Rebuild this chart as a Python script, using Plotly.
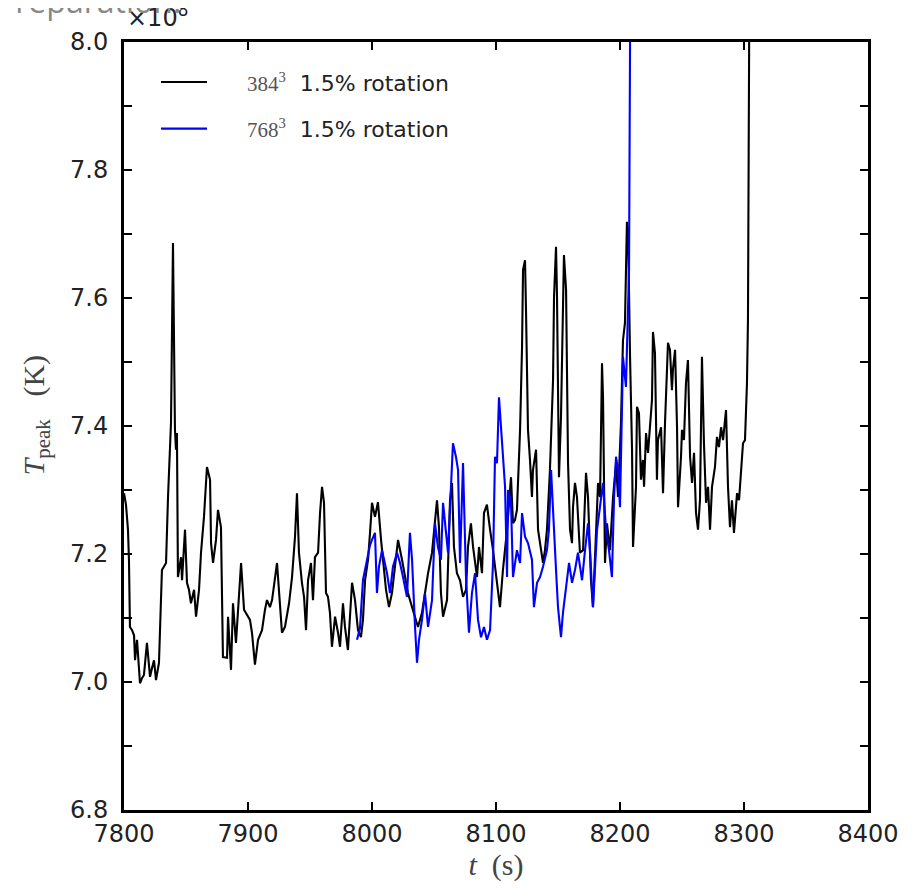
import plotly.graph_objects as go

# 384^3 run, 1.5% rotation  (t in s, T_peak in units of 1e8 K)
black_t = [7800.0, 7801.6, 7803.2, 7804.0, 7804.8, 7806.5, 7808.1, 7808.9, 7810.5, 7812.9,
           7814.5, 7816.1, 7818.5, 7821.0, 7822.6, 7824.2, 7825.8, 7828.2, 7830.6, 7833.9,
           7835.5, 7837.9, 7839.5, 7841.1, 7841.9, 7842.7, 7843.5, 7846.0, 7846.8, 7849.2,
           7850.8, 7852.4, 7854.0, 7856.5, 7858.1, 7860.5, 7862.1, 7864.5, 7866.9, 7869.4,
           7870.2, 7871.8, 7874.2, 7875.8, 7878.2, 7879.8, 7883.1, 7883.9, 7886.3, 7887.9,
           7890.3, 7892.7, 7894.4, 7896.8, 7899.2, 7901.6, 7903.2, 7905.6, 7908.1, 7911.3,
           7913.7, 7915.3, 7917.7, 7919.4, 7923.4, 7924.2, 7927.4, 7929.8, 7933.1, 7935.5,
           7937.9, 7939.5, 7941.1, 7943.5, 7945.2, 7946.8, 7948.4, 7950.8, 7952.4, 7954.0,
           7956.5, 7958.1, 7959.7, 7961.3, 7962.9, 7964.5, 7966.1, 7967.7, 7970.2, 7972.6,
           7974.2, 7976.6, 7978.2, 7980.6, 7983.9, 7986.3, 7988.7, 7991.1, 7992.7, 7994.4,
           7996.8, 7998.4, 8000.0, 8002.4, 8004.8, 8007.3, 8008.9, 8011.3, 8013.7, 8016.1,
           8018.5, 8021.0, 8024.2, 8026.6, 8029.0, 8032.3, 8034.7, 8037.1, 8040.3, 8042.7,
           8045.2, 8048.4, 8050.8, 8052.4, 8054.0, 8055.6, 8057.3, 8060.5, 8062.9, 8064.5,
           8066.1, 8068.5, 8071.0, 8073.4, 8075.8, 8077.4, 8079.8, 8081.5, 8084.7, 8086.3,
           8088.7, 8090.3, 8092.7, 8094.4, 8095.2, 8097.6, 8100.8, 8103.2, 8105.6, 8108.9,
           8112.1, 8113.7, 8115.3, 8116.9, 8119.4, 8121.0, 8121.8, 8123.4, 8124.2, 8125.8,
           8127.4, 8129.0, 8129.8, 8132.3, 8133.9, 8135.5, 8137.9, 8139.5, 8141.1, 8143.5,
           8146.0, 8146.8, 8148.4, 8149.2, 8150.8, 8152.4, 8154.0, 8154.8, 8156.5, 8158.1,
           8159.7, 8161.3, 8162.1, 8163.7, 8165.3, 8167.7, 8170.2, 8172.6, 8174.2, 8176.6,
           8178.2, 8180.6, 8182.3, 8183.9, 8185.5, 8186.3, 8187.9, 8189.5, 8191.9, 8194.4,
           8196.8, 8198.4, 8200.8, 8202.4, 8204.0, 8205.6, 8206.5, 8208.1, 8209.7, 8210.5,
           8212.9, 8213.7, 8215.3, 8216.9, 8218.5, 8219.4, 8221.0, 8222.6, 8224.2, 8225.8,
           8226.6, 8228.2, 8229.8, 8230.6, 8233.1, 8234.7, 8236.3, 8237.9, 8238.7, 8240.3,
           8241.9, 8242.7, 8244.4, 8246.0, 8246.8, 8249.2, 8250.0, 8251.6, 8253.2, 8254.8,
           8256.5, 8258.1, 8259.7, 8261.3, 8262.9, 8264.5, 8266.1, 8267.7, 8269.4, 8271.0,
           8272.6, 8274.2, 8276.6, 8278.2, 8279.8, 8281.5, 8283.1, 8285.5, 8287.1, 8288.7,
           8290.3, 8291.9, 8294.4, 8296.0, 8298.4, 8299.2, 8300.8, 8302.4, 8303.2, 8304.0,
           8304.8]
black_T = [7.295, 7.277, 7.238, 7.191, 7.086, 7.081, 7.073, 7.034, 7.066, 6.998,
           7.006, 7.011, 7.061, 7.008, 7.022, 7.034, 7.003, 7.030, 7.175, 7.186,
           7.289, 7.405, 7.686, 7.394, 7.363, 7.389, 7.164, 7.195, 7.159, 7.238,
           7.155, 7.144, 7.123, 7.144, 7.102, 7.144, 7.202, 7.258, 7.336, 7.316,
           7.217, 7.186, 7.222, 7.269, 7.242, 7.039, 7.038, 7.102, 7.019, 7.123,
           7.061, 7.133, 7.186, 7.113, 7.105, 7.097, 7.077, 7.027, 7.066, 7.081,
           7.113, 7.128, 7.117, 7.128, 7.186, 7.164, 7.077, 7.086, 7.123, 7.164,
           7.227, 7.295, 7.202, 7.155, 7.133, 7.081, 7.159, 7.186, 7.128, 7.195,
           7.202, 7.264, 7.305, 7.280, 7.139, 7.133, 7.108, 7.055, 7.102, 7.077,
           7.055, 7.123, 7.086, 7.050, 7.155, 7.128, 7.081, 7.070, 7.097, 7.159,
           7.191, 7.233, 7.280, 7.258, 7.281, 7.222, 7.191, 7.144, 7.117, 7.139,
           7.180, 7.222, 7.191, 7.164, 7.139, 7.117, 7.102, 7.086, 7.108, 7.139,
           7.170, 7.202, 7.258, 7.284, 7.242, 7.139, 7.102, 7.128, 7.284, 7.311,
           7.211, 7.170, 7.159, 7.133, 7.144, 7.211, 7.248, 7.211, 7.164, 7.211,
           7.170, 7.264, 7.277, 7.242, 7.238, 7.206, 7.159, 7.117, 7.175, 7.238,
           7.320, 7.248, 7.253, 7.269, 7.394, 7.523, 7.644, 7.659, 7.581, 7.394,
           7.347, 7.289, 7.331, 7.363, 7.238, 7.217, 7.186, 7.206, 7.238, 7.331,
           7.472, 7.602, 7.680, 7.602, 7.320, 7.414, 7.602, 7.667, 7.613, 7.342,
           7.238, 7.217, 7.273, 7.311, 7.289, 7.202, 7.206, 7.327, 7.289, 7.159,
           7.117, 7.248, 7.311, 7.289, 7.498, 7.445, 7.186, 7.248, 7.206, 7.289,
           7.342, 7.289, 7.405, 7.534, 7.561, 7.719, 7.706, 7.508, 7.363, 7.211,
           7.305, 7.430, 7.420, 7.316, 7.347, 7.305, 7.389, 7.358, 7.398, 7.441,
           7.547, 7.514, 7.316, 7.378, 7.398, 7.295, 7.405, 7.472, 7.530, 7.519,
           7.456, 7.488, 7.519, 7.398, 7.273, 7.352, 7.394, 7.378, 7.467, 7.503,
           7.352, 7.311, 7.358, 7.264, 7.238, 7.284, 7.508, 7.373, 7.280, 7.305,
           7.238, 7.305, 7.336, 7.383, 7.367, 7.398, 7.378, 7.425, 7.305, 7.242,
           7.284, 7.233, 7.295, 7.284, 7.342, 7.373, 7.378, 7.467, 7.566, 8.000,
           8.300]

# 768^3 run, 1.5% rotation
blue_t = [7987.9, 7990.3, 7992.7, 7995.2, 7996.8, 7998.4, 8000.0, 8002.4, 8004.0, 8005.6,
          8008.1, 8009.7, 8012.1, 8014.5, 8016.9, 8020.2, 8022.6, 8025.0, 8028.2, 8030.6,
          8032.3, 8034.7, 8036.3, 8037.9, 8040.3, 8042.7, 8045.2, 8048.4, 8050.8, 8053.2,
          8055.6, 8057.3, 8059.7, 8061.3, 8063.7, 8065.3, 8067.7, 8069.4, 8071.0, 8073.4,
          8075.8, 8078.2, 8080.6, 8083.1, 8085.5, 8087.9, 8090.3, 8092.7, 8095.2, 8097.6,
          8099.2, 8100.8, 8102.4, 8104.8, 8105.6, 8107.3, 8108.9, 8109.7, 8112.1, 8113.7,
          8116.9, 8119.4, 8121.0, 8123.4, 8125.8, 8129.0, 8130.6, 8133.1, 8135.5, 8137.9,
          8141.1, 8142.7, 8144.4, 8146.0, 8148.4, 8150.0, 8152.4, 8154.0, 8157.3, 8158.9,
          8161.3, 8163.7, 8166.1, 8169.4, 8171.8, 8174.2, 8175.8, 8178.2, 8181.5, 8183.9,
          8186.3, 8188.7, 8191.1, 8193.5, 8195.2, 8196.8, 8198.4, 8200.0, 8201.6, 8202.4,
          8204.8, 8206.5, 8207.3, 8208.1, 8208.9]
blue_T = [7.066, 7.084, 7.159, 7.183, 7.203, 7.214, 7.222, 7.233, 7.139, 7.180,
          7.206, 7.191, 7.170, 7.139, 7.180, 7.202, 7.186, 7.164, 7.133, 7.233,
          7.191, 7.086, 7.030, 7.066, 7.097, 7.139, 7.086, 7.128, 7.248, 7.211,
          7.191, 7.280, 7.233, 7.202, 7.305, 7.373, 7.352, 7.331, 7.186, 7.342,
          7.164, 7.077, 7.139, 7.170, 7.097, 7.070, 7.086, 7.066, 7.081, 7.186,
          7.352, 7.342, 7.445, 7.373, 7.358, 7.305, 7.164, 7.300, 7.280, 7.164,
          7.206, 7.186, 7.264, 7.227, 7.217, 7.191, 7.117, 7.155, 7.164, 7.180,
          7.206, 7.238, 7.331, 7.258, 7.175, 7.117, 7.070, 7.108, 7.159, 7.186,
          7.155, 7.175, 7.202, 7.159, 7.206, 7.248, 7.206, 7.117, 7.238, 7.273,
          7.311, 7.238, 7.206, 7.164, 7.289, 7.352, 7.331, 7.273, 7.409, 7.508,
          7.461, 7.566, 7.644, 8.000, 8.300]

series_names = [
    "&nbsp;&nbsp;&nbsp;&nbsp;&nbsp;<span style='font-family:Liberation Serif;font-size:21px;color:#555'>384<sup>3</sup></span>&nbsp;&nbsp;1.5% rotation",
    "&nbsp;&nbsp;&nbsp;&nbsp;&nbsp;<span style='font-family:Liberation Serif;font-size:21px;color:#555'>768<sup>3</sup></span>&nbsp;&nbsp;1.5% rotation",
]

x_range = [7800, 8400]
y_range = [6.8, 8.0]

fig = go.Figure()
fig.add_trace(go.Scatter(x=black_t, y=black_T, mode="lines", name=series_names[0],
                         line=dict(color="black", width=2.1), legendgroup="a"))
fig.add_trace(go.Scatter(x=blue_t, y=blue_T, mode="lines", name=series_names[1],
                         line=dict(color="#0000ff", width=2.1), legendgroup="b"))

axis_common = dict(showgrid=False, zeroline=False, showline=True, linecolor="black",
                   linewidth=3, mirror="ticks", ticks="inside", ticklen=8, tickwidth=2,
                   tickcolor="black", automargin=False,
                   tickfont=dict(family="DejaVu Sans", size=24, color="#222"))

fig.update_xaxes(range=x_range, dtick=100, tick0=7800, ticklabelstandoff=0,
                 title=dict(text="<i>t</i>&nbsp;&nbsp;(s)", standoff=0,
                            font=dict(family="Liberation Serif", size=30, color="#444")),
                 **axis_common)
fig.update_yaxes(range=y_range, dtick=0.2, tick0=6.8, tickformat=".1f", ticklabelstandoff=8,
                 minor=dict(dtick=0.1, ticks="inside", ticklen=8, tickwidth=2, tickcolor="black"),
                 **axis_common)

fig.update_layout(
    width=910, height=880,
    margin=dict(l=116, r=50, t=34, b=78),
    paper_bgcolor="white", plot_bgcolor="white",
    showlegend=True,
    legend=dict(x=0.043, y=0.975, xanchor="left", yanchor="top",
                bgcolor="rgba(0,0,0,0)", borderwidth=0,
                font=dict(family="DejaVu Sans", size=22, color="#222"),
                tracegroupgap=15, itemwidth=46, traceorder="grouped"),
    annotations=[
        dict(text="<i>T</i><sub>peak</sub>&nbsp;&nbsp;&nbsp;(K)", xref="paper", yref="paper",
             x=-0.118, y=0.514, xanchor="center", yanchor="middle", textangle=-90,
             showarrow=False,
             font=dict(family="Liberation Serif", size=30, color="#444")),
        dict(text="×10<sup>8</sup>", xref="paper", yref="paper", x=0.0, y=1.0,
             xanchor="left", yanchor="bottom", showarrow=False, yshift=8, xshift=1,
             font=dict(family="DejaVu Sans", size=24, color="#222")),
        dict(text="Preparation.", xref="paper", yref="paper", x=0.079, y=1.0235,
             xanchor="right", yanchor="bottom", showarrow=False,
             font=dict(family="Open Sans", size=32, color="#888")),
    ],
)

fig.write_html("out.html")
